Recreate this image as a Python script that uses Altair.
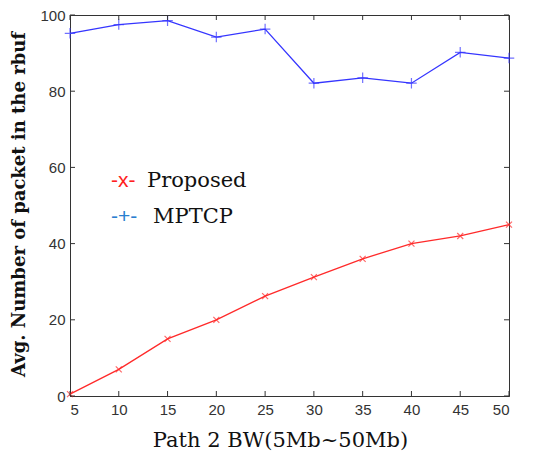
import altair as alt
import pandas as pd

bw = [5, 10, 15, 20, 25, 30, 35, 40, 45, 50]
mptcp = [95.2, 97.5, 98.5, 94.2, 96.3, 82.1, 83.5, 82.1, 90.2, 88.7]
proposed = [0.5, 7.0, 15.0, 20.0, 26.2, 31.2, 36.0, 40.0, 42.0, 45.0]
x_ticks = [5, 10, 15, 20, 25, 30, 35, 40, 45, 50]
y_ticks = [0, 20, 40, 60, 80, 100]

legend_sym = ["-x-", "-+-"]
legend_lab = ["Proposed", "MPTCP"]
legend_y = [56.4, 46.9]

W, H = 439, 381

df = pd.DataFrame(
    {"bw": bw * 2, "val": proposed + mptcp, "series": ["Proposed"] * 10 + ["MPTCP"] * 10}
)
colors = alt.Scale(domain=["Proposed", "MPTCP"], range=["#ff2a2a", "#3535ff"])

xs = alt.Scale(domain=[5, 50], nice=False, zero=False)
ys = alt.Scale(domain=[0, 100], nice=False)

base = alt.Chart(df)
lines = base.mark_line(strokeWidth=1.3).encode(
    x=alt.X(
        "bw:Q",
        scale=xs,
        axis=alt.Axis(
            values=x_ticks,
            ticks=False,
            grid=False,
            title="Path 2 BW(5Mb~50Mb)",
            titleFont="DejaVu Serif",
            titleFontSize=21,
            titleFontWeight="normal",
            titleColor="#111",
            titlePadding=12,
            titleX=210,
            labelFont="Liberation Sans",
            labelFontSize=15,
            labelColor="#333",
            labelPadding=6,
            domainColor="#333",
        ),
    ),
    y=alt.Y(
        "val:Q",
        scale=ys,
        axis=alt.Axis(
            values=y_ticks,
            ticks=False,
            grid=False,
            title="Avg. Number of packet in the rbuf",
            titleFont="DejaVu Serif",
            titleFontSize=18,
            titleFontWeight="bold",
            titleColor="#111",
            titlePadding=11,
            titleY=189,
            labelFont="Liberation Sans",
            labelFontSize=15,
            labelColor="#333",
            labelPadding=5,
            domainColor="#333",
        ),
    ),
    color=alt.Color("series:N", scale=colors, legend=None),
)

pts_x = (
    alt.Chart(df[df.series == "Proposed"])
    .mark_point(shape="M-1,-1L1,1M-1,1L1,-1", size=36, filled=False, strokeWidth=1.2)
    .encode(x=alt.X("bw:Q", scale=xs), y=alt.Y("val:Q", scale=ys), color=alt.Color("series:N", scale=colors, legend=None))
)
pts_p = (
    alt.Chart(df[df.series == "MPTCP"])
    .mark_point(shape="M-1,0L1,0M0,-1L0,1", size=110, filled=False, strokeWidth=1.2)
    .encode(x=alt.X("bw:Q", scale=xs), y=alt.Y("val:Q", scale=ys), color=alt.Color("series:N", scale=colors, legend=None))
)

tx = pd.DataFrame({"t": x_ticks})
ty = pd.DataFrame({"t": y_ticks})
tick_col = "#333"
tb = alt.Chart(tx).mark_rule(color=tick_col).encode(x=alt.X("t:Q", scale=xs), y=alt.value(H), y2=alt.value(H - 5))
tt = alt.Chart(tx).mark_rule(color=tick_col).encode(x=alt.X("t:Q", scale=xs), y=alt.value(0), y2=alt.value(5))
tl = alt.Chart(ty).mark_rule(color=tick_col).encode(y=alt.Y("t:Q", scale=ys), x=alt.value(0), x2=alt.value(5))
tr = alt.Chart(ty).mark_rule(color=tick_col).encode(y=alt.Y("t:Q", scale=ys), x=alt.value(W), x2=alt.value(W - 5))

leg = pd.DataFrame({"sym": legend_sym, "lab": legend_lab, "y": legend_y, "series": ["Proposed", "MPTCP"]})
leg_scale = alt.Scale(domain=["Proposed", "MPTCP"], range=["#ff2020", "#2a7fd0"])
leg_sym = (
    alt.Chart(leg)
    .mark_text(align="left", baseline="middle", font="Liberation Sans", fontSize=21)
    .encode(
        x=alt.value(41),
        y=alt.Y("y:Q", scale=ys),
        text="sym:N",
        color=alt.Color("series:N", scale=leg_scale, legend=None),
    )
)
leg_lab1 = (
    alt.Chart(leg[leg.series == "Proposed"])
    .mark_text(align="left", baseline="middle", font="DejaVu Serif", fontSize=21, color="#111")
    .encode(x=alt.value(77), y=alt.Y("y:Q", scale=ys), text="lab:N")
)
leg_lab2 = (
    alt.Chart(leg[leg.series == "MPTCP"])
    .mark_text(align="left", baseline="middle", font="DejaVu Serif", fontSize=21, color="#111")
    .encode(x=alt.value(83), y=alt.Y("y:Q", scale=ys), text="lab:N")
)

chart = (
    alt.layer(lines, pts_x, pts_p, tb, tt, tl, tr, leg_sym, leg_lab1, leg_lab2)
    .resolve_scale(color="independent")
    .properties(
        width=W,
        height=H,
        autosize=alt.AutoSizeParams(type="none"),
        padding={"left": 62, "top": 7, "right": 30, "bottom": 57},
        background="white",
    )
    .configure_view(stroke="#333", strokeWidth=1)
)

chart.save("out.html", embed_options={"renderer": "svg", "actions": False})
